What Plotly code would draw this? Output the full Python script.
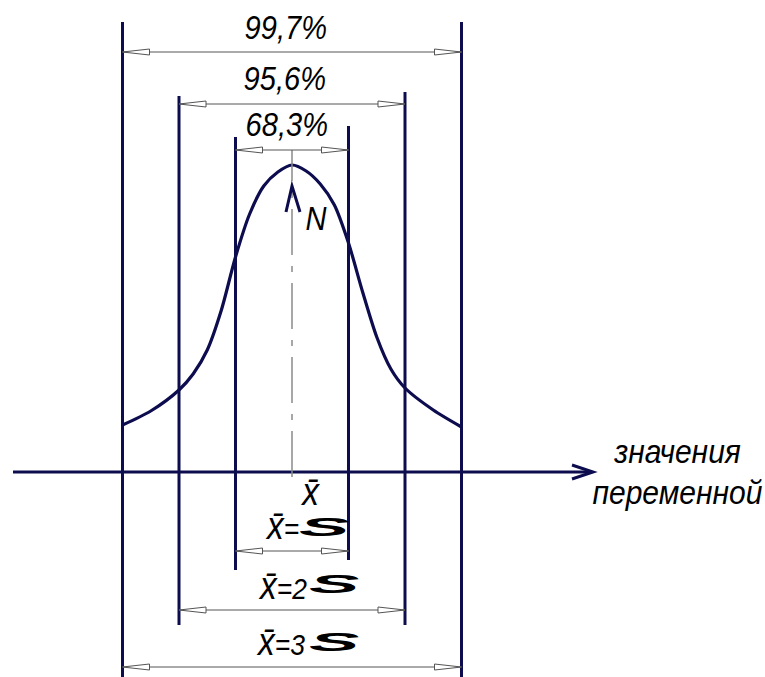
import plotly.graph_objects as go

# ---------------- data ----------------
sigma_levels = [1, 2, 3]
percent_labels = ["68,3%", "95,6%", "99,7%"]
interval_prefix = ["x̄=", "x̄=2", "x̄=3"]
sigma_symbol = "S"
mean_label = "x̄"
peak_label = "N"
axis_title = ["значения", "переменной"]

# curve (x in sigma units from mean, y = height above axis)
curve_x = [-3, -2.5, -2, -1.75, -1.5, -1.25, -1, -0.75, -0.5, -0.25, 0,
           0.25, 0.5, 0.75, 1, 1.25, 1.5, 1.75, 2, 2.5, 3]
curve_y = [47, 61, 82, 98, 122, 162, 215, 258, 286, 300, 307,
           301, 288, 267, 229, 180, 135, 103, 84, 62, 45]

# ---------------- layout constants ----------------
W, H = 765, 677
PX = 56.5            # pixels per sigma
X0 = 292             # mean position (px)
AX_Y = 472           # axis position (px)
NAVY = "#0c0c4e"
GREY = "#555555"
FONT = "Liberation Sans, Arial, sans-serif"

def zx(px):
    return (px - X0) / PX

def zy(py):
    return AX_Y - py

# vertical line extents (top, bottom) for -3..-1, 1..3
vline_z = [-3, -2, -1, 1, 2, 3]
vline_top = [zy(22), zy(96), zy(137), zy(126), zy(92), zy(22)]
vline_bot = [zy(680), zy(625), zy(570), zy(560), zy(625), zy(680)]

dim_top_y = {1: zy(150), 2: zy(104), 3: zy(52)}
dim_bot_y = {1: zy(551), 2: zy(610), 3: zy(667)}

fig = go.Figure()

# curve
fig.add_trace(go.Scatter(x=curve_x, y=curve_y, mode="lines",
                         line=dict(color=NAVY, width=3.2, shape="spline", smoothing=0.8),
                         hoverinfo="skip", showlegend=False))

shapes = []
# vertical lines
for z, t, b in zip(vline_z, vline_top, vline_bot):
    shapes.append(dict(type="line", xref="x", yref="y", x0=z, x1=z, y0=b, y1=t,
                       line=dict(color=NAVY, width=3)))

# x axis
shapes.append(dict(type="line", xref="x", yref="y", x0=zx(13), x1=zx(592), y0=0, y1=0,
                   line=dict(color=NAVY, width=3)))
shapes.append(dict(type="path", xref="x", yref="y",
                   path=f"M {zx(572)} 7 L {zx(593)} 0 L {zx(572)} -7",
                   line=dict(color=NAVY, width=3)))

# centre line
shapes.append(dict(type="line", xref="x", yref="y", x0=0, x1=0, y0=zy(477), y1=zy(150),
                   line=dict(color="#8a8a8a", width=1.5, dash="46px,11px,6px,11px")))

# caret under peak
shapes.append(dict(type="path", xref="x", yref="y",
                   path=f"M {zx(286)} {zy(212)} L 0 {zy(186)} L {zx(300)} {zy(212)}",
                   line=dict(color=NAVY, width=3)))

AL = 27 / PX   # arrow head length in sigma units
AW = 3         # half width in px (= y units)

def dim_arrow(k, y):
    xl, xr = -k, k
    shapes.append(dict(type="line", xref="x", yref="y", x0=xl, x1=xr, y0=y, y1=y,
                       line=dict(color=GREY, width=1)))
    for tip, base in ((xl, xl + AL), (xr, xr - AL)):
        shapes.append(dict(type="path", xref="x", yref="y",
                           path=f"M {tip} {y} L {base} {y+AW} L {base} {y-AW} Z",
                           fillcolor="white", line=dict(color=GREY, width=1)))

for k in sigma_levels:
    dim_arrow(k, dim_top_y[k])
    dim_arrow(k, dim_bot_y[k])

annotations = []
pct_pos = {1: (287, 124), 2: (285, 78), 3: (286, 27)}
for k, lab in zip(sigma_levels, percent_labels):
    px, py = pct_pos[k]
    annotations.append(dict(x=zx(px), y=zy(py), text=lab, showarrow=False,
                            xanchor="center", yanchor="middle",
                            font=dict(family=FONT, size=33, color="black", style="italic")))

annotations.append(dict(x=zx(316), y=zy(218), text=peak_label, showarrow=False,
                        xanchor="center", yanchor="middle",
                        font=dict(family=FONT, size=33, color="black", style="italic")))

def xbar(s):
    return s.replace("x̄", "<span style='font-size:38px'>x\u0304</span>")

annotations.append(dict(x=zx(310), y=zy(492), text=xbar(mean_label), showarrow=False,
                        xanchor="center", yanchor="middle",
                        font=dict(family=FONT, size=30, color="black", style="italic")))

pre_pos = {1: (304, 526), 2: (313, 586), 3: (311, 642)}
s_pos = {1: (325, 527), 2: (335, 584), 3: (335, 642)}
for k, pre in zip(sigma_levels, interval_prefix):
    px, py = pre_pos[k]
    annotations.append(dict(x=zx(px), y=zy(py), text=xbar(pre), showarrow=False,
                            xanchor="right", yanchor="middle",
                            font=dict(family=FONT, size=30, color="black", style="italic")))
    sx, sy = s_pos[k]
    annotations.append(dict(x=zx(sx), y=zy(sy), text="<b>" + sigma_symbol + "</b>", showarrow=False,
                            xanchor="center", yanchor="middle",
                            font=dict(family="Liberation Sans, Arial", size=26, color="black", style="italic")))

annotations.append(dict(x=zx(677), y=zy(451), text=axis_title[0], showarrow=False,
                        xanchor="center", yanchor="middle",
                        font=dict(family=FONT, size=33, color="black", style="italic")))
annotations.append(dict(x=zx(677), y=zy(492), text=axis_title[1], showarrow=False,
                        xanchor="center", yanchor="middle",
                        font=dict(family=FONT, size=33, color="black", style="italic")))

fig.update_layout(
    width=W, height=H,
    margin=dict(l=0, r=0, t=0, b=0),
    paper_bgcolor="white", plot_bgcolor="white",
    xaxis=dict(range=[zx(0), zx(W)], visible=False, fixedrange=True),
    yaxis=dict(range=[zy(H), zy(0)], visible=False, fixedrange=True),
    shapes=shapes, annotations=annotations, showlegend=False,
)

post = """
(function(){
  document.body.style.margin = '0';
  document.body.style.overflow = 'hidden';
  document.querySelectorAll('text.annotation-text').forEach(function(t){
    var txt = t.textContent;
    var s = (txt === 'S') ? 2.9 : (txt.length > 6 ? 0.91 : 0.88);
    var bb = t.getBBox();
    var anchor = t.getAttribute('text-anchor');
    var px = bb.x + bb.width / 2;
    if (anchor === 'end') px = bb.x + bb.width;
    if (anchor === 'start') px = bb.x;
    t.setAttribute('transform', 'translate(' + px + ',0) scale(' + s + ',1) translate(' + (-px) + ',0)');
  });
})();
"""

fig.write_html("out.html", post_script=post, config={"displayModeBar": False})
